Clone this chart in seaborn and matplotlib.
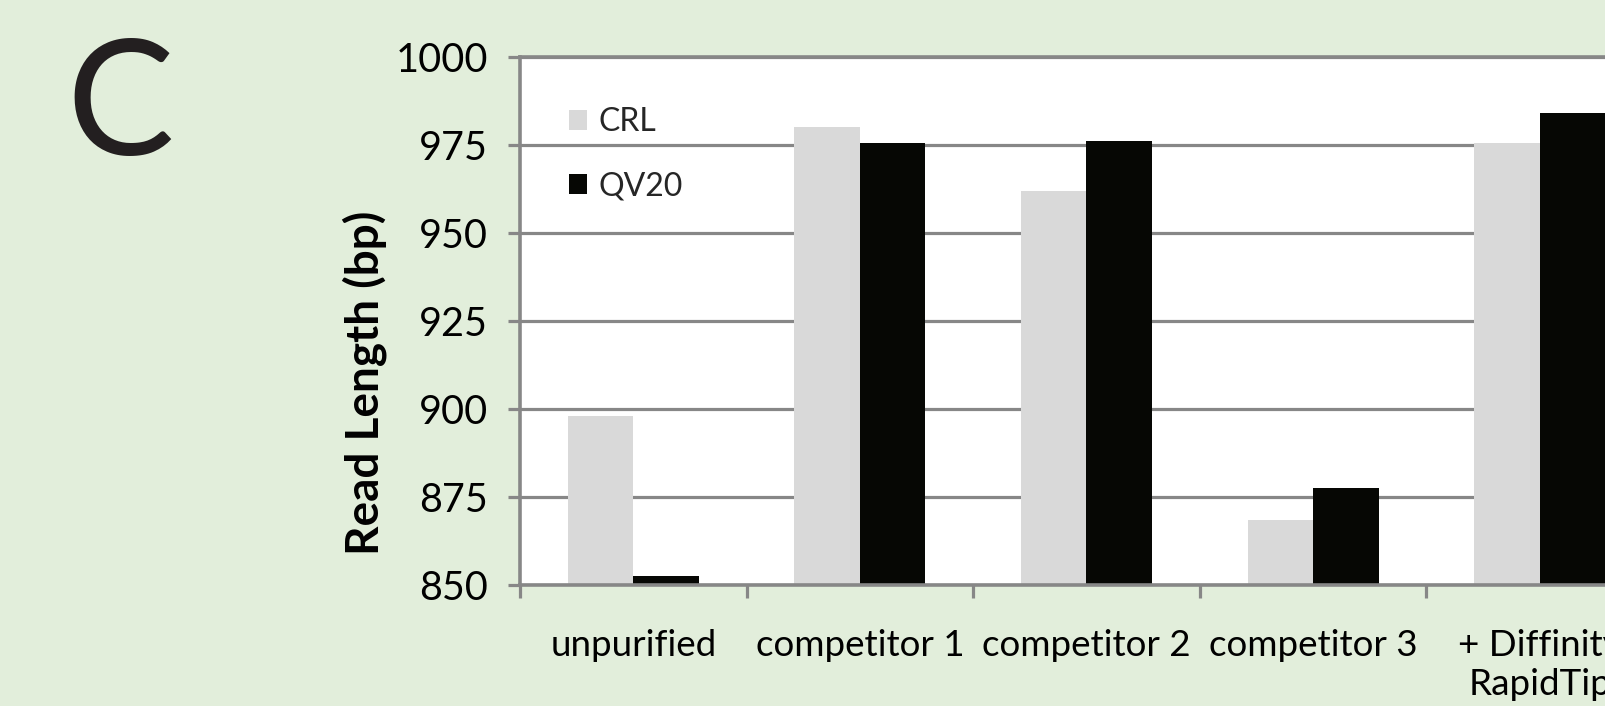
import matplotlib
matplotlib.use("Agg")
import matplotlib.pyplot as plt
import seaborn as sns
import pandas as pd
from matplotlib.ticker import FixedLocator

categories = ["unpurified", "competitor 1", "competitor 2", "competitor 3", "+ Diffinity\nRapidTip"]
series = ["CRL", "QV20"]
crl_values = [898, 980, 962, 868.5, 975.5]
qv20_values = [852.5, 975.5, 976, 877.5, 984]
yticks = [850, 875, 900, 925, 950, 975, 1000]
ylabel = "Read Length (bp)"
panel = "C"

df = pd.DataFrame({
    "category": categories * 2,
    "series": [series[0]] * len(categories) + [series[1]] * len(categories),
    "value": crl_values + qv20_values,
})

sns.set_theme(style="white")
plt.rcParams["font.family"] = ["Lato", "DejaVu Sans"]

W, H = 1605, 706
fig = plt.figure(figsize=(W / 100, H / 100), dpi=100)
bg = "#e2eedb"
fig.patch.set_facecolor(bg)
grid_c = "#878787"

left, right, top, bottom = 520, 1653, 57, 585
ax = fig.add_axes([left / W, (H - bottom) / H, (right - left) / W, (bottom - top) / H])
ax.set_facecolor("white")

sns.barplot(data=df, x="category", y="value", hue="series", hue_order=series,
            palette={"CRL": "#d9d9d9", "QV20": "#060704"}, width=0.578,
            saturation=1, linewidth=0, ax=ax, legend=True)

ax.set_ylim(yticks[0], yticks[-1])
ax.set_xlim(-0.5, len(categories) - 0.5)
ax.set_yticks(yticks)
ax.set_axisbelow(True)
ax.yaxis.grid(True, color=grid_c, linewidth=2.3)
ax.xaxis.grid(False)

for s in ["left", "bottom", "top"]:
    ax.spines[s].set_visible(True)
    ax.spines[s].set_color(grid_c)
    ax.spines[s].set_linewidth(2.6)
ax.spines["right"].set_visible(False)

ax.tick_params(axis="y", which="major", direction="out", length=9, width=2.3,
               color=grid_c, labelsize=28.5, labelcolor="black", pad=14, left=True)
ax.set_xticks(range(len(categories)))
ax.set_xticklabels(categories, linespacing=1.2)
ax.tick_params(axis="x", which="major", length=0, labelsize=26.5, labelcolor="black", pad=32)
ax.xaxis.set_minor_locator(FixedLocator([i - 0.5 for i in range(len(categories) + 1)]))
ax.tick_params(axis="x", which="minor", direction="out", length=9, width=2.3,
               color=grid_c, bottom=True)

ax.set_xlabel("")
ax.set_ylabel(ylabel, fontsize=33, fontweight="bold", color="black")
ax.yaxis.set_label_coords(-0.1175, 0.383)

handles, labels = ax.get_legend_handles_labels()
ax.legend(handles, labels, loc="upper left", bbox_to_anchor=(0.0432, 0.905),
          frameon=False, fontsize=23, handlelength=0.58, handleheight=0.58,
          handletextpad=0.35, labelspacing=1.07, borderpad=0, borderaxespad=0)

fig.text(120 / W, 1 - 109 / H, panel, fontsize=116, color="#231f20",
         ha="center", va="center")

fig.savefig("out.png", dpi=100, facecolor=bg)
